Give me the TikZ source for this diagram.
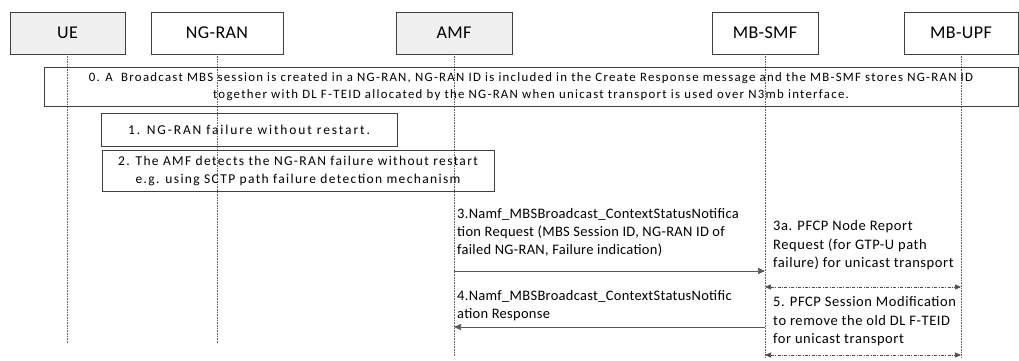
\documentclass[tikz,border=0pt]{standalone}
\usepackage{fontspec}
\setmainfont{Carlito}
\usetikzlibrary{arrows.meta}

\tikzset{
	entity/.style={draw=black!75, line width=0.6pt, minimum height=42pt, inner sep=0pt, font=\fontsize{18}{20}\selectfont\addfontfeatures{LetterSpace=2}},
	shaded entity/.style={entity, fill=black!6},
	notebox/.style={draw=black!75, line width=0.6pt, inner sep=0pt, align=center},
	lifeline/.style={densely dotted, black!60, line width=0.6pt},
	msg/.style={black!65, line width=0.7pt, -{Triangle[length=7pt,width=6pt]}},
	pfcp/.style={black!70, line width=0.6pt, dash pattern=on 3pt off 1.5pt on 0.8pt off 1.5pt, {Triangle[length=6pt,width=5pt]}-{Triangle[length=6pt,width=5pt]}},
	msgtext/.style={anchor=base west, inner sep=0pt, align=left, font=\fontsize{14.5}{18}\selectfont\addfontfeatures{LetterSpace=2}}
}

\begin{document}
\begin{tikzpicture}[x=1pt, y=-1pt]
	\useasboundingbox (0,0) rectangle (1019,361);

	% entities
	\node[shaded entity, minimum width=115pt] (ue) at (67.5,33) {UE};
	\node[entity, minimum width=132pt] (ngran) at (217,33) {NG-RAN};
	\node[shaded entity, minimum width=116pt] (amf) at (454,33) {AMF};
	\node[entity, minimum width=106pt] (mbsmf) at (765,33) {MB-SMF};
	\node[entity, minimum width=114pt] (mbupf) at (961,33) {MB-UPF};

	% ends of the life lines
	\coordinate (ueend) at (67.5,343);
	\coordinate (ngranend) at (217,343);
	\coordinate (amfend) at (454,356);
	\coordinate (mbsmfend) at (765,357);
	\coordinate (mbupfend) at (961,357);

	\draw[lifeline] (ue) -- (ueend);
	\draw[lifeline] (ngran) -- (ngranend);
	\draw[lifeline] (amf) -- (amfend);
	\draw[lifeline] (mbsmf) -- (mbsmfend);
	\draw[lifeline] (mbupf) -- (mbupfend);

	% steps 0, 1 and 2
	\node[notebox, minimum width=974pt, minimum height=39pt, font=\fontsize{12.8}{16.5}\selectfont\addfontfeatures{LetterSpace=10}] (stepzero) at (531,86.5)
		{0. A\ \ Broadcast MBS session is created in a NG-RAN, NG-RAN ID is included in the Create Response message and the MB-SMF stores NG-RAN ID\\
		together with DL F-TEID allocated by the NG-RAN when unicast transport is used over N3mb interface.};
	\node[notebox, minimum width=296pt, minimum height=33pt, font=\fontsize{13.5}{18}\selectfont\addfontfeatures{LetterSpace=14}] (stepone) at (249,129.5)
		{1. NG-RAN failure without restart.};
	\node[notebox, minimum width=392pt, minimum height=41pt, font=\fontsize{13.5}{18}\selectfont\addfontfeatures{LetterSpace=10}] (steptwo) at (298,170.5)
		{2. The AMF detects the NG-RAN failure without restart\\ e.g. using SCTP path failure detection mechanism};

	% message levels
	\coordinate (ythree) at (0,271);
	\coordinate (ythreea) at (0,287);
	\coordinate (yfour) at (0,327);
	\coordinate (yfive) at (0,355);

	\draw[msg] (amf |- ythree) -- (mbsmf |- ythree);
	\node[msgtext] (txtthree) at (457,254.5)
		{3.Namf\_MBSBroadcast\_ContextStatusNotifica\\ tion Request (MBS Session ID, NG-RAN ID of\\ failed NG-RAN, Failure indication)};

	\draw[pfcp] (mbsmf |- ythreea) -- (mbupf |- ythreea);
	\node[msgtext, font=\fontsize{14.5}{18.5}\selectfont\addfontfeatures{LetterSpace=4}] (txtthreea) at (773,267.5)
		{3a. PFCP Node Report\\ Request (for GTP-U path\\ failure) for unicast transport};

	\draw[msg] (mbsmf |- yfour) -- (amf |- yfour);
	\node[msgtext] (txtfour) at (457,318.5)
		{4.Namf\_MBSBroadcast\_ContextStatusNotific\\ ation Response};

	\draw[pfcp] (mbsmf |- yfive) -- (mbupf |- yfive);
	\node[msgtext, font=\fontsize{14.5}{18.5}\selectfont\addfontfeatures{LetterSpace=4}] (txtfive) at (773,343.5)
		{5. PFCP Session Modification\\ to remove the old DL F-TEID\\ for unicast transport};
\end{tikzpicture}
\end{document}
